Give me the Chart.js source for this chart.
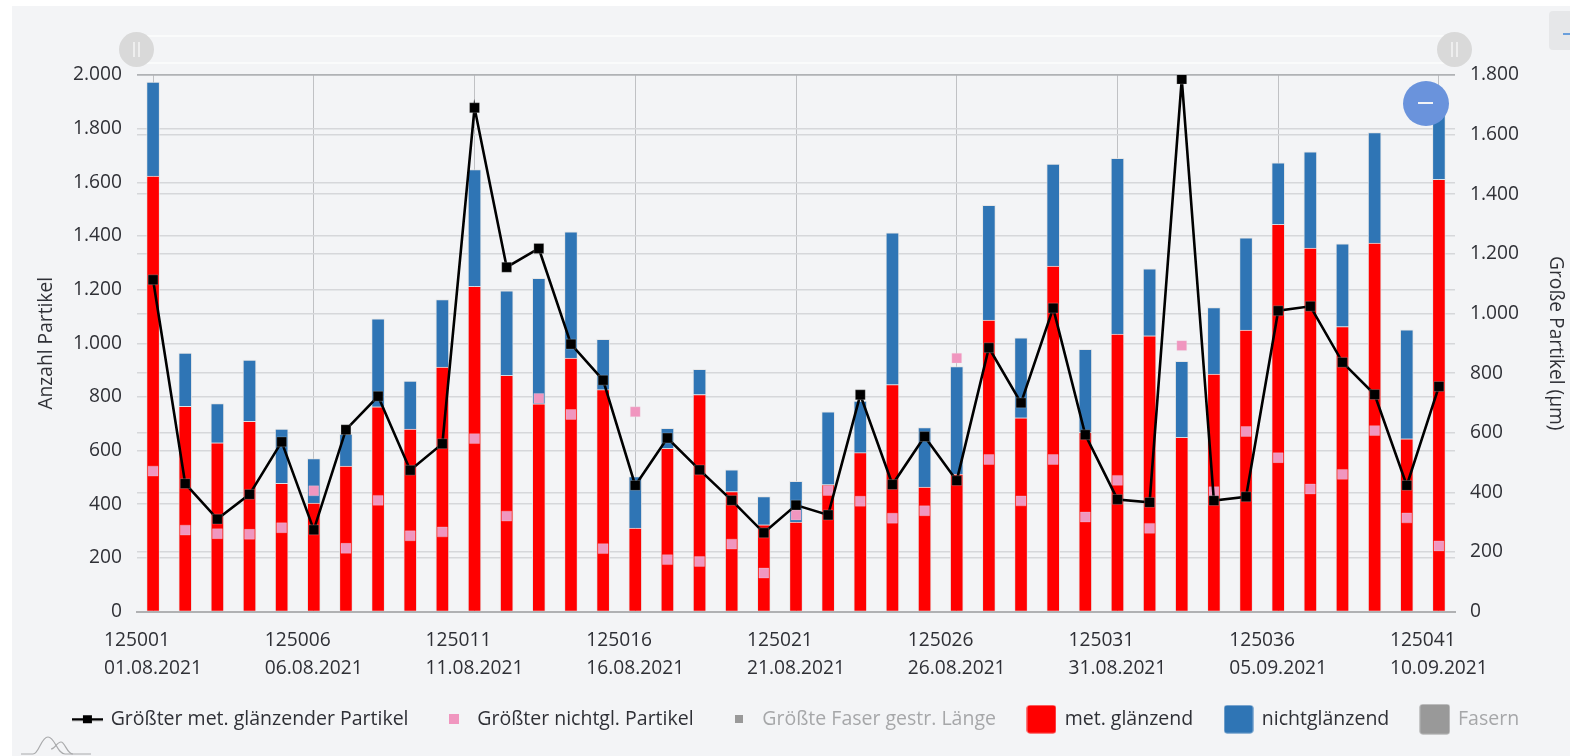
<!DOCTYPE html>
<html lang="de">
<head>
<meta charset="utf-8">
<title>Partikel</title>
<script src="https://cdn.jsdelivr.net/npm/chart.js@4"></script>
<style>
  html, body { margin: 0; padding: 0; background: #fff; overflow: hidden; }
  #wrap { position: relative; width: 1570px; height: 756px; overflow: hidden; }
  #panel { position: absolute; left: 12px; top: 6px; right: 0; bottom: 0; background: #f3f4f6; }
  #band { position: absolute; left: 145px; top: 35px; width: 1300px; height: 25px; border-top: 2px solid #fafbfb; border-bottom: 2px solid #fafbfb; }
  canvas { position: absolute; left: 0; top: 0; }
  .grip { position: absolute; top: 32px; width: 35px; height: 35px; border-radius: 50%; background: #d9d9d9; }
  .grip::before { content: ""; position: absolute; left: 14px; top: 10px; width: 2px; height: 15px; background: #eee; box-shadow: 5px 0 0 #eee; }
  #zoomOut { position: absolute; left: 1403px; top: 81px; width: 46px; height: 45px; border-radius: 50%; background: #6a93dc; }
  #zoomOut::before { content: ""; position: absolute; left: 15px; top: 21px; width: 15px; height: 2px; background: #f3f4f6; }
  #menu { position: absolute; left: 1549px; top: 11px; width: 30px; height: 39px; border-radius: 4px; background: #e6e7e9; }
  #menu::before { content: ""; position: absolute; left: 14px; top: 22px; width: 7px; height: 2px; background: #6a9fdc; }
  #logo { position: absolute; left: 21px; top: 735px; }
</style>
</head>
<body>
<div id="wrap">
  <div id="panel"></div>
  <div id="band"></div>
  <canvas id="chart" width="1570" height="739"></canvas>
  <div class="grip" style="left:119px"></div>
  <div class="grip" style="left:1437px"></div>
  <div id="zoomOut"></div>
  <div id="menu"></div>
  <svg id="logo" width="70" height="21" fill="none" stroke="#a9aaac" stroke-width="1.2">
    <path d="M0 19 H12 C18 19 20 2 27 2 C34 2 36 19 44 19 H70"/>
    <path d="M30 14 C34 14 36 7 40 7 C44 7 46 19 52 19"/>
  </svg>
</div>
<script>
const ids = ["125001","125002","125003","125004","125005","125006","125007","125008","125009","125010",
  "125011","125012","125013","125014","125015","125016","125017","125018","125019","125020",
  "125021","125022","125023","125024","125025","125026","125027","125028","125029","125030",
  "125031","125032","125033","125034","125035","125036","125037","125038","125039","125040","125041"];

const dates = ["01.08.2021","02.08.2021","03.08.2021","04.08.2021","05.08.2021","06.08.2021","07.08.2021","08.08.2021","09.08.2021","10.08.2021",
  "11.08.2021","12.08.2021","13.08.2021","14.08.2021","15.08.2021","16.08.2021","17.08.2021","18.08.2021","19.08.2021","20.08.2021",
  "21.08.2021","22.08.2021","23.08.2021","24.08.2021","25.08.2021","26.08.2021","27.08.2021","28.08.2021","29.08.2021","30.08.2021",
  "31.08.2021","01.09.2021","02.09.2021","03.09.2021","04.09.2021","05.09.2021","06.09.2021","07.09.2021","08.09.2021","09.09.2021","10.09.2021"];

const glaenzend = [1623,765,629,709,478,404,542,763,680,911,
  1212,880,774,945,827,311,608,809,447,323,
  333,473,592,846,464,512,1086,722,1288,668,
  1034,1028,649,885,1049,1443,1355,1062,1373,644,1611];

const nichtglaenzend = [351,198,146,228,202,166,119,328,179,252,
  435,315,468,470,188,192,75,94,81,105,
  152,271,192,566,222,401,428,298,380,309,
  655,249,284,248,344,230,359,309,412,406,279];

const groessterGlaenzend = [1113,429,310,393,569,274,610,722,474,563,
  1690,1155,1218,897,776,423,582,475,373,264,
  357,324,727,426,587,439,885,700,1018,593,
  376,366,1786,372,385,1009,1024,836,728,423,755];

const groessterNichtgl = [471,273,261,259,281,405,212,373,254,267,
  580,320,715,661,211,670,174,168,226,129,
  324,406,370,313,338,850,510,371,510,317,
  440,279,892,402,604,516,411,460,607,314,220];

const legendNames = ["Größter met. glänzender Partikel","Größter nichtgl. Partikel","Größte Faser gestr. Länge","met. glänzend","nichtglänzend","Fasern"];

const RED = "#ff0000";
const BLUE = "#2f75b5";
const PINK = "#f096bf";
const GREY = "#999999";
const TEXT = "#2f3036";
const FONT = "'Open Sans'";
const SIZE = 19.2;

// legend symbols, one little canvas per series
function symbol(w, h, draw) {
  const c = document.createElement("canvas");
  c.width = w;
  c.height = h;
  draw(c.getContext("2d"), w, h);
  return c;
}

function square(color, size) {
  return symbol(size, size, (g, w, h) => {
    g.fillStyle = color;
    g.fillRect(0, 0, w, h);
  });
}

function roundBox(color, w, h) {
  return symbol(w, h, (g) => {
    g.fillStyle = color;
    g.beginPath();
    g.roundRect(0.5, 0.5, w - 1, h - 1, 3);
    g.fill();
  });
}

const lineSymbol = symbol(31, 10, (g, w, h) => {
  g.fillStyle = "#000";
  g.fillRect(0, 4, w, 2.4);
  g.fillRect(11, 1, 9, 8);
});

const legendSymbols = [lineSymbol, square(PINK, 10), square(GREY, 8), roundBox(RED, 30, 29), roundBox(BLUE, 30, 29), roundBox(GREY, 31, 31)];
const legendColors = [TEXT, TEXT, "#a6a7a9", TEXT, TEXT, "#a6a7a9"];

const hGrid = (ctx) => ctx.tick && ctx.index === ctx.chart.scales[ctx.scale.id].ticks.length - 1 ? "#b0b2b5" : "#d6d7da";

new Chart(document.getElementById("chart"), {
  type: "bar",
  data: {
    labels: ids.map((id, i) => [id, dates[i]]),
    datasets: [
      { type: "line", label: legendNames[0], data: groessterGlaenzend, yAxisID: "y1", order: 0,
        borderColor: "#000", borderWidth: 2.6, pointStyle: "rect", pointRadius: 7,
        pointBackgroundColor: "#000", pointBorderColor: "rgba(225,225,225,.5)", pointBorderWidth: 0.5, tension: 0 },
      { type: "line", label: legendNames[1], data: groessterNichtgl, yAxisID: "y1", order: 1,
        showLine: false, pointStyle: "rect", pointRadius: 7,
        pointBackgroundColor: PINK, pointBorderColor: "rgba(240,240,240,.5)", pointBorderWidth: 0.5 },
      { type: "line", label: legendNames[2], data: [], yAxisID: "y1", hidden: true },
      { label: legendNames[3], data: glaenzend, backgroundColor: RED, yAxisID: "y", order: 2,
        borderColor: "rgba(225,225,225,.75)", borderWidth: 1, barThickness: 13 },
      { label: legendNames[4], data: nichtglaenzend, backgroundColor: BLUE, yAxisID: "y", order: 2,
        borderColor: "rgba(225,225,225,.75)", borderWidth: 1, barThickness: 13 },
      { label: legendNames[5], data: [], yAxisID: "y", hidden: true }
    ]
  },
  options: {
    responsive: false,
    animation: false,
    layout: { padding: { left: 23, top: 75 } },
    plugins: {
      tooltip: { enabled: false },
      legend: {
        position: "bottom",
        labels: {
          usePointStyle: true,
          pointStyleWidth: 27,
          padding: 32,
          font: { family: FONT, size: 19.5 },
          generateLabels: () => legendNames.map((name, i) => ({
            text: name,
            fontColor: legendColors[i],
            pointStyle: legendSymbols[i],
            lineWidth: 0,
            hidden: false,
            datasetIndex: i
          }))
        }
      }
    },
    scales: {
      x: {
        stacked: true,
        offset: true,
        afterFit: (scale) => { scale.height = 66; },
        border: { color: "#b0b1b3", width: 2 },
        grid: {
          offset: false,
          drawTicks: false,
          color: (ctx) => ctx.index % 5 === 0 ? "#c0c1c4" : "transparent"
        },
        ticks: {
          autoSkip: false,
          maxRotation: 0,
          align: "start",
          labelOffset: -49,
          padding: 15,
          color: TEXT,
          font: { family: FONT, size: SIZE, lineHeight: 1.46 },
          callback: function (value, index) {
            return index % 5 === 0 ? this.getLabelForValue(value) : "";
          }
        }
      },
      y: {
        stacked: true,
        min: 0,
        max: 2000,
        afterFit: (scale) => { scale.width = 114; },
        border: { display: false },
        grid: { drawTicks: false, lineWidth: 1.5, color: hGrid },
        title: { display: true, text: "Anzahl Partikel", color: TEXT, padding: 12, font: { family: FONT, size: SIZE } },
        ticks: {
          stepSize: 200,
          padding: 15,
          color: TEXT,
          font: { family: FONT, size: SIZE },
          callback: (value) => value.toLocaleString("de-DE")
        }
      },
      y1: {
        position: "right",
        min: 0,
        max: 1800,
        afterFit: (scale) => { scale.width = 115; },
        border: { display: false },
        grid: { drawTicks: false, lineWidth: 1.5, color: hGrid },
        title: { display: true, text: "Große Partikel (µm)", color: TEXT, padding: 3, font: { family: FONT, size: SIZE } },
        ticks: {
          stepSize: 200,
          padding: 15,
          color: TEXT,
          font: { family: FONT, size: SIZE },
          callback: (value) => value.toLocaleString("de-DE")
        }
      }
    }
  }
});
</script>
</body>
</html>
